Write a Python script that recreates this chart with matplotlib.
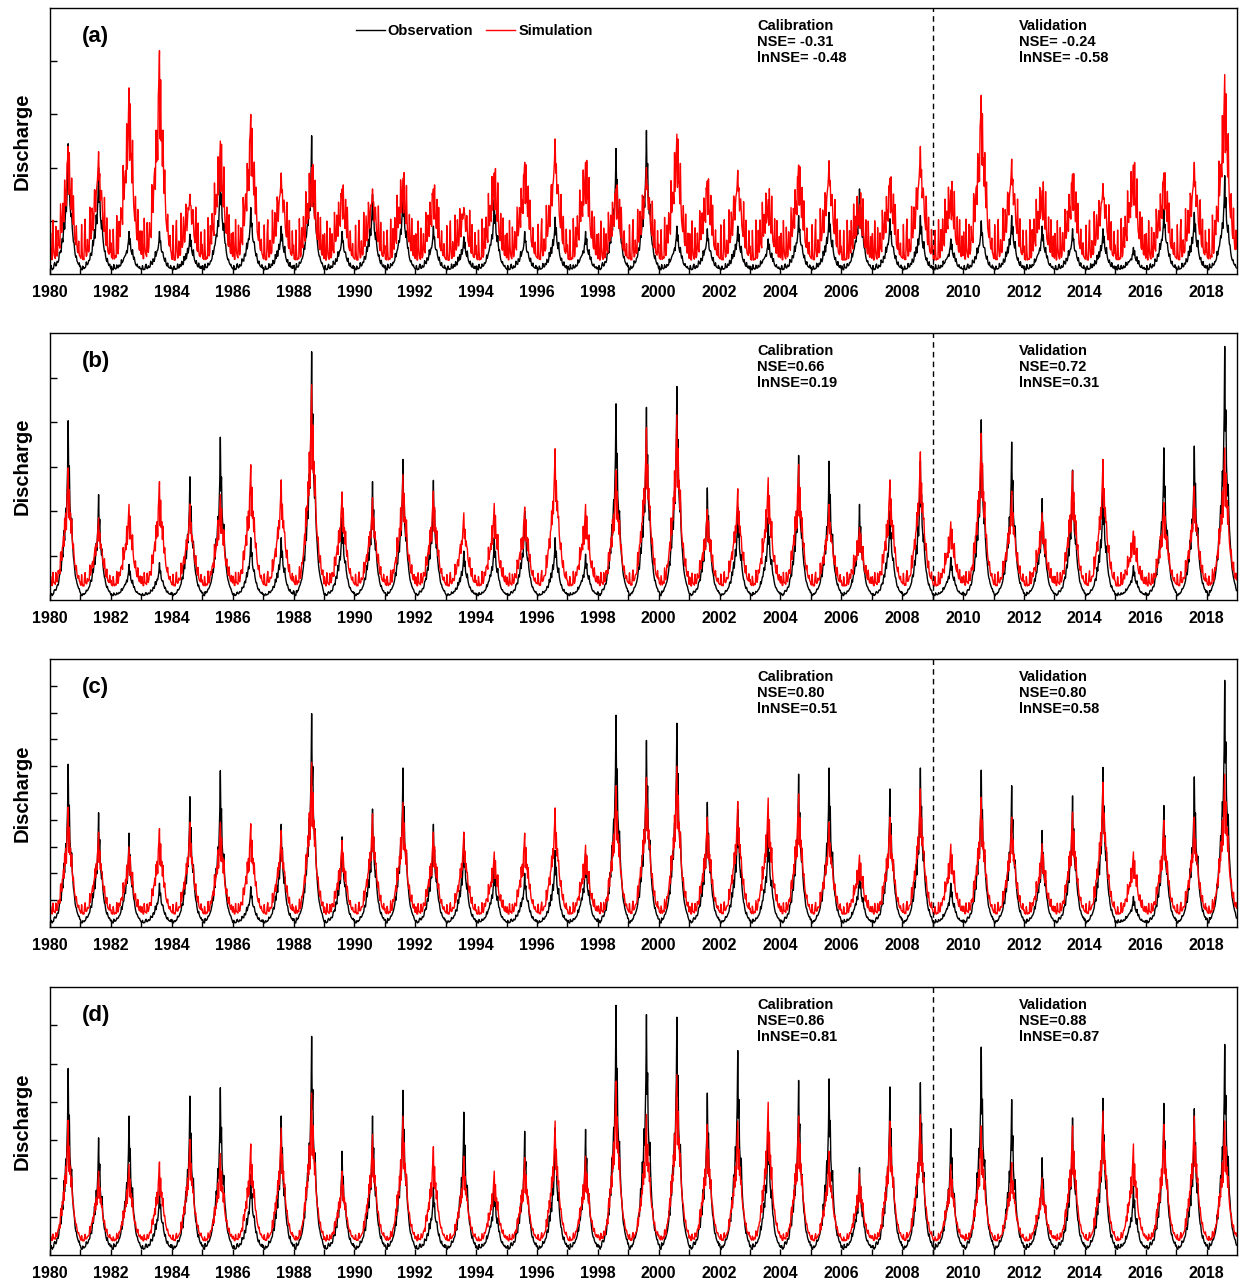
import numpy as np
import matplotlib
matplotlib.use('Agg')
import matplotlib.pyplot as plt

plt.rcParams['font.family'] = ['Liberation Sans', 'DejaVu Sans']
plt.rcParams['font.weight'] = 'bold'

YEARS = list(range(1980, 2019))
PANELS = ['(a)', '(b)', '(c)', '(d)']
YMAX = [5, 6, 10, 7]

# annual peak discharge (axis units)
OBS_A = [2.45, 2.0, 0.8, 0.8, 0.75, 1.93, 1.25, 0.9, 2.6, 0.8, 1.5, 1.6, 0.9, 0.7, 1.4, 0.8, 1.07, 0.8, 2.36,
         2.7, 0.9, 0.85, 0.9, 0.66, 1.1, 1.16, 1.6, 1.04, 1.1, 0.66, 1.0, 1.1, 0.9, 0.85, 0.85, 0.5, 1.22, 1.16, 1.85]
SIM_A = [2.4, 2.3, 3.5, 4.2, 1.5, 2.5, 3.0, 1.9, 2.0, 1.6, 1.6, 1.8, 1.6, 1.25, 1.9, 2.1, 2.54, 2.1, 1.6,
         2.0, 2.63, 1.75, 1.95, 1.4, 2.05, 2.13, 1.3, 1.8, 2.4, 1.58, 3.36, 2.16, 1.57, 1.88, 1.7, 2.05, 1.9, 2.1, 3.75]
OBS_B = [4.03, 2.37, 0.8, 0.84, 2.77, 3.66, 1.4, 1.4, 5.58, 1.85, 2.66, 3.16, 2.69, 1.1, 1.4, 2.0, 1.4, 1.03, 4.41,
         4.33, 4.8, 2.52, 2.09, 1.85, 3.25, 3.12, 2.15, 2.0, 3.12, 0.96, 4.05, 3.55, 2.28, 2.92, 2.52, 0.77, 3.42, 3.46, 5.7]
SIM_B = [2.97, 1.85, 2.15, 2.66, 2.16, 2.37, 3.04, 2.7, 4.84, 2.43, 2.3, 2.82, 2.45, 1.96, 2.17, 2.09, 3.4, 2.15, 2.92,
         3.87, 4.16, 2.04, 2.5, 2.75, 3.04, 2.15, 1.63, 2.7, 3.33, 1.76, 3.75, 2.45, 1.96, 2.9, 3.16, 1.55, 2.19, 2.56, 3.42]
OBS_C = [6.07, 4.26, 3.5, 1.63, 4.86, 5.83, 1.5, 3.83, 7.96, 3.36, 4.4, 5.93, 3.83, 3.3, 2.25, 2.0, 2.86, 2.72, 7.9,
         6.96, 7.6, 4.65, 4.4, 3.6, 5.7, 5.93, 2.12, 5.15, 5.93, 1.63, 5.85, 5.27, 3.6, 4.89, 5.95, 1.14, 4.53, 5.6, 9.2]
SIM_C = [4.47, 3.54, 2.99, 3.67, 3.91, 3.91, 3.85, 3.6, 6.14, 3.23, 4.22, 4.65, 3.54, 3.54, 2.8, 3.5, 4.44, 3.05, 5.27,
         5.58, 6.0, 4.1, 4.68, 4.81, 4.96, 3.91, 2.68, 4.1, 5.15, 3.09, 4.84, 4.1, 3.11, 4.28, 5.4, 2.8, 3.98, 4.1, 5.7]
OBS_D = [4.87, 3.06, 3.63, 1.71, 4.15, 4.37, 2.1, 3.63, 5.71, 2.71, 3.63, 4.3, 1.76, 3.73, 1.84, 3.23, 3.32, 3.28, 6.52,
         6.28, 6.21, 4.23, 5.34, 3.5, 4.56, 4.6, 2.28, 4.39, 4.5, 3.3, 5.43, 4.06, 2.54, 3.58, 4.09, 1.8, 3.96, 3.82, 5.5]
SIM_D = [3.52, 2.19, 2.37, 2.43, 3.02, 2.65, 2.9, 3.32, 4.23, 2.19, 3.15, 3.63, 2.83, 2.58, 2.19, 2.54, 3.5, 2.58, 4.54,
         3.67, 4.71, 3.41, 3.5, 3.99, 3.63, 2.71, 2.13, 3.5, 3.67, 2.37, 3.37, 2.41, 2.02, 3.37, 3.76, 2.9, 3.41, 3.63, 3.5]

OBS_PEAKS = [OBS_A, OBS_B, OBS_C, OBS_D]
SIM_PEAKS = [SIM_A, SIM_B, SIM_C, SIM_D]
OBS_BASE = [0.08, 0.1, 0.15, 0.15]
SIM_BASE = [0.25, 0.3, 0.45, 0.35]
OBS_WIGGLE = [0.1, 0.06, 0.12, 0.12]
SIM_WIGGLE = [0.8, 0.3, 0.4, 0.15]

# weekly hydrograph shape within a year (share of the annual peak)
OBS_SHAPE = [0.02, 0.01, 0.0, 0.0, 0.0, 0.01, 0.01, 0.02, 0.02, 0.03, 0.03, 0.04, 0.05, 0.06, 0.06, 0.08,
             0.10, 0.12, 0.15, 0.14, 0.19, 0.24, 0.22,
             0.30, 0.36, 0.31, 0.42, 0.50, 0.44, 0.58, 0.72,
             1.00,
             0.66, 0.74, 0.52, 0.46, 0.40, 0.44, 0.33,
             0.27, 0.22, 0.18, 0.15, 0.12, 0.10, 0.08, 0.07, 0.06, 0.05, 0.04, 0.03, 0.02]
SIM_SHAPE = [0.03, 0.02, 0.02, 0.01, 0.01, 0.02, 0.01, 0.02, 0.03, 0.02, 0.04, 0.05, 0.04, 0.07, 0.08, 0.10,
             0.14, 0.11, 0.20, 0.26, 0.21, 0.33, 0.28,
             0.40, 0.34, 0.52, 0.45, 0.62, 0.48, 0.70, 0.84,
             1.00,
             0.58, 0.76, 0.55, 0.62, 0.45, 0.50, 0.38,
             0.32, 0.27, 0.23, 0.20, 0.17, 0.14, 0.12, 0.10, 0.08, 0.07, 0.06, 0.05, 0.04]

# small storm pulses outside the main flood, three alternating years
PULSES = [
    [0.0, 0.6, 0.2, 0.0, 0.0, 0.9, 0.3, 0.1, 0.0, 0.0, 0.7, 0.2, 0.0,
     0.0, 0.5, 0.1, 0.0, 0.0, 0.8, 0.3, 0.1, 0.0, 0.6, 0.2, 0.0, 0.5,
     0.1, 0.0, 0.0, 0.4, 0.1, 0.0, 0.0, 0.5, 0.1, 0.0, 0.0, 0.6, 0.2,
     0.0, 0.8, 0.3, 0.0, 0.0, 0.0, 0.5, 0.1, 0.0, 0.0, 0.3, 0.0, 0.0],
    [0.0, 0.0, 0.8, 0.2, 0.0, 0.0, 0.0, 0.6, 0.9, 0.2, 0.0, 0.0, 0.4,
     0.1, 0.0, 0.0, 0.9, 0.3, 0.0, 0.0, 0.7, 0.2, 0.0, 0.0, 0.8, 0.3,
     0.0, 0.0, 0.5, 0.1, 0.0, 0.0, 0.4, 0.1, 0.0, 0.0, 0.5, 0.1, 0.0,
     0.0, 0.0, 0.9, 0.3, 0.0, 0.0, 0.7, 0.1, 0.0, 0.0, 0.0, 0.6, 0.1],
    [0.3, 0.0, 0.0, 0.0, 0.7, 0.2, 0.0, 0.0, 0.0, 0.0, 0.9, 0.3, 0.0,
     0.0, 0.6, 0.2, 0.0, 0.8, 0.2, 0.0, 0.0, 0.9, 0.3, 0.0, 0.6, 0.0,
     0.0, 0.7, 0.2, 0.0, 0.0, 0.0, 0.0, 0.6, 0.2, 0.0, 0.0, 0.8, 0.2,
     0.0, 0.0, 0.0, 0.7, 0.2, 0.0, 0.0, 0.8, 0.2, 0.0, 0.0, 0.5, 0.1],
]

CAL_TEXT = ['Calibration\nNSE= -0.31\nlnNSE= -0.48', 'Calibration\nNSE=0.66\nlnNSE=0.19',
            'Calibration\nNSE=0.80\nlnNSE=0.51', 'Calibration\nNSE=0.86\nlnNSE=0.81']
VAL_TEXT = ['Validation\nNSE= -0.24\nlnNSE= -0.58', 'Validation\nNSE=0.72\nlnNSE=0.31',
            'Validation\nNSE=0.80\nlnNSE=0.58', 'Validation\nNSE=0.88\nlnNSE=0.87']
SPLIT_YEAR = 2009


def build(peaks, base, shape, wiggle, offset):
    xs, ys = [], []
    n = len(shape)
    for i, (yr, pk) in enumerate(zip(YEARS, peaks)):
        pulse = PULSES[(i + offset) % len(PULSES)]
        for k in range(n):
            xs.append(yr + k / n)
            ys.append(base + (pk - base) * shape[k] + wiggle * pulse[k])
    return np.array(xs), np.array(ys)


fig = plt.figure(figsize=(12.41, 12.86), dpi=100)
bottoms = [0.7869, 0.5334, 0.2792, 0.0241]
heights = [0.2068, 0.2076, 0.2084, 0.2084]

for p in range(4):
    ax = fig.add_axes([0.0403, bottoms[p], 0.9565, heights[p]])
    xo, yo = build(OBS_PEAKS[p], OBS_BASE[p], OBS_SHAPE, OBS_WIGGLE[p], 1)
    xs, ys = build(SIM_PEAKS[p], SIM_BASE[p], SIM_SHAPE, SIM_WIGGLE[p], 0)
    ax.plot(xo, yo, color='black', lw=1.0, label='Observation')
    ax.plot(xs, ys, color='#ff0000', lw=1.0, label='Simulation')
    ax.axvline(SPLIT_YEAR, color='black', lw=1.0, ls=(0, (4, 3)))

    ax.set_xlim(1980, 2019)
    ax.set_ylim(0, YMAX[p])
    ax.set_xticks(range(1980, 2019, 2))
    ax.set_xticks(range(1981, 2019, 2), minor=True)
    ax.set_yticks(range(1, YMAX[p]))
    ax.set_yticklabels([])
    ax.tick_params(axis='x', which='both', direction='in', length=4, width=1, pad=8,
                   labelsize=11.5, top=False)
    ax.tick_params(axis='y', direction='in', length=5, width=1, right=False)
    for lab in ax.get_xticklabels():
        lab.set_fontweight('bold')
    for sp in ax.spines.values():
        sp.set_linewidth(1.0)
    ax.set_ylabel('Discharge', fontsize=14.5, fontweight='bold', labelpad=10)

    ax.text(0.027, 0.895, PANELS[p], transform=ax.transAxes, fontsize=16,
            fontweight='bold', va='center', ha='left')
    ax.text(0.5956, 0.96, CAL_TEXT[p], transform=ax.transAxes, fontsize=10.5,
            fontweight='bold', va='top', ha='left', linespacing=1.2)
    ax.text(0.8163, 0.96, VAL_TEXT[p], transform=ax.transAxes, fontsize=10.5,
            fontweight='bold', va='top', ha='left', linespacing=1.2)

    if p == 0:
        ax.legend(loc='center left', bbox_to_anchor=(0.2525, 0.915), ncol=2, frameon=False,
                  fontsize=10.5, handlelength=2.0, handletextpad=0.2, columnspacing=0.9,
                  borderaxespad=0)

fig.savefig('out.png', dpi=100)
